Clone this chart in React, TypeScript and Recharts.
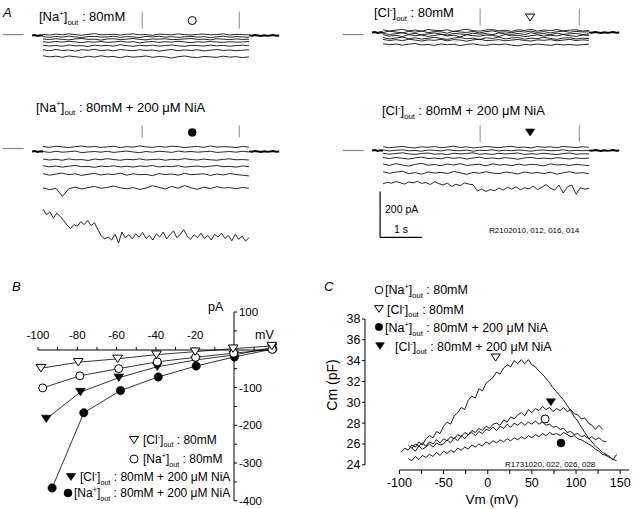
import React from "react";
import { LineChart, Line, XAxis, YAxis, ReferenceLine, ReferenceDot } from "recharts";

// ---------------- Panel A: current sweeps (pA) during the 4.9 s voltage steps ----------------
const stepEnd = 4.9;
const preStart = -0.26;
const postEnd = 5.62;
const holdPre = [0, 2, -2, 1, 0];
const holdPost = [1, -1, 2, 0, -2, 1, -1, 0, 2, -1, 0];

const na80Sweeps = [
  [5, 2, 6, 3, 7, 4, 1, 5, 8, 3, 4, 6, 2, 5, 7, 3, 4, 1, 6, 5, 3, 7, 4, 2, 5, 6, 3, 4, 7, 2, 5, 4, 3],
  [-5, -8, -4, -7, -3, -6, -9, -5, -4, -7, -6, -3, -8, -5, -6, -9, -4, -6, -3, -7, -5, -8, -6, -4, -7, -5, -9, -6, -3, -7, -5, -6, -8],
  [-15, -18, -14, -17, -19, -15, -13, -17, -16, -20, -15, -14, -18, -16, -13, -17, -19, -15, -16, -14, -18, -17, -15, -13, -17, -16, -19, -14, -16, -18, -15, -17, -16],
  [-27, -30, -26, -29, -25, -28, -31, -27, -29, -26, -30, -28, -25, -29, -27, -32, -28, -26, -30, -27, -29, -25, -28, -31, -27, -29, -26, -28, -30, -27, -29, -28, -26],
  [-42, -46, -43, -47, -41, -45, -44, -48, -42, -45, -43, -46, -40, -44, -47, -43, -45, -42, -46, -44, -41, -45, -47, -43, -44, -46, -42, -45, -43, -47, -44, -42, -45],
  [-62, -66, -61, -65, -63, -68, -62, -64, -60, -66, -63, -67, -61, -64, -66, -62, -65, -63, -68, -64, -61, -66, -63, -65, -62, -67, -64, -61, -65, -63, -66, -64, -62],
  [-88, -93, -90, -95, -89, -92, -96, -90, -94, -88, -93, -91, -97, -90, -94, -92, -89, -95, -91, -93, -98, -92, -89, -94, -96, -91, -93, -95, -90, -94, -92, -96, -93],
];

const naNiaSweeps = [
  [22, 18, 23, 20, 17, 21, 24, 19, 22, 18, 20, 23, 17, 21, 19, 24, 20, 18, 22, 19, 23, 21, 17, 20, 22, 18, 24, 19, 21, 20, 17, 22, 19],
  [0, -4, 1, -3, -1, 2, -5, -2, 0, -3, 1, -4, -1, 2, -2, -5, 0, -3, 1, -1, -4, 2, -2, 0, -3, -1, 1, -4, -2, 0, -3, 1, -2],
  [-33, -37, -34, -38, -32, -36, -35, -39, -33, -36, -31, -35, -38, -34, -36, -32, -37, -35, -33, -38, -34, -36, -31, -35, -37, -33, -36, -38, -34, -32, -36, -35, -37],
  [-62, -67, -63, -68, -64, -61, -66, -65, -69, -63, -66, -62, -67, -64, -68, -63, -65, -61, -67, -64, -66, -62, -68, -65, -63, -67, -64, -61, -66, -65, -68, -63, -66],
  [-96, -103, -98, -94, -101, -97, -104, -99, -95, -102, -98, -100, -94, -103, -97, -101, -99, -105, -96, -100, -98, -103, -95, -101, -99, -97, -104, -98, -102, -96, -100, -103, -106],
  [-158, -166, -160, -195, -162, -155, -163, -157, -152, -160, -156, -150, -158, -162, -157, -165, -159, -149, -156, -163, -152, -160, -148, -158, -164, -155, -161, -153, -159, -157, -162, -156, -160],
  [-250, -275, -262, -290, -268, -282, -300, -320, -335, -318, -325, -305, -318, -300, -322, -310, -340, -368, -380, -372, -385, -360, -398, -350, -375, -362, -380, -358, -372, -352, -378, -365, -385, -358, -372, -350, -380, -362, -345, -375, -360, -340, -368, -382, -362, -375, -355, -378, -365, -385, -360, -372, -355, -378, -365, -388, -360, -382, -368, -390, -375],
];

const cl80Sweeps = [
  [12, 6, 10, 14, 7, 11, 5, 13, 9, 8, 12, 4, 10, 14, 8, 6, 11, 13, 7, 10, 5, 12, 9, 14, 6, 11, 8, 13, 7, 10, 12, 6, 9],
  [0, 6, 2, -2, 5, 1, 7, -1, 4, 3, -3, 6, 2, 0, 5, -2, 4, 7, 1, 3, -1, 5, 2, 6, 0, 4, -2, 3, 6, 1, 5, 2, 3],
  [-3, -9, -5, -1, -8, -4, -10, -6, -2, -7, -11, -4, -6, -9, -3, -7, -5, -10, -2, -6, -8, -4, -9, -1, -7, -5, -10, -3, -8, -6, -4, -9, -6],
  [-10, -16, -12, -18, -9, -14, -11, -17, -13, -8, -15, -12, -19, -10, -14, -16, -11, -13, -17, -9, -15, -12, -18, -14, -10, -16, -12, -15, -9, -14, -17, -11, -13],
  [-22, -28, -24, -20, -27, -23, -29, -25, -21, -26, -30, -24, -22, -27, -25, -31, -23, -26, -20, -28, -24, -22, -29, -25, -27, -21, -26, -30, -24, -23, -28, -25, -26],
  [-30, -35, -31, -36, -29, -33, -37, -32, -34, -30, -36, -31, -33, -38, -32, -29, -35, -34, -31, -36, -33, -30, -35, -37, -32, -34, -31, -36, -33, -30, -35, -32, -34],
  [-49, -53, -50, -55, -51, -48, -54, -52, -56, -50, -53, -51, -57, -52, -49, -54, -56, -51, -53, -50, -55, -58, -52, -54, -50, -53, -56, -51, -54, -52, -55, -53, -51],
];

const clNiaSweeps = [
  [16, 12, 15, 18, 13, 11, 16, 14, 17, 12, 15, 19, 13, 16, 11, 14, 17, 15, 12, 16, 18, 13, 15, 11, 17, 14, 16, 12, 18, 15, 13, 16, 14],
  [2, -2, 1, 3, -1, 0, -3, 2, 1, -2, 3, 0, -1, 2, -3, 1, 0, 3, -2, 1, -1, 2, 0, -3, 1, 2, -1, 0, 3, -2, 1, -1, 0],
  [-12, -16, -13, -10, -15, -17, -13, -11, -16, -14, -18, -12, -15, -13, -10, -16, -14, -17, -12, -15, -13, -11, -17, -14, -16, -12, -15, -18, -13, -11, -16, -14, -15],
  [-31, -35, -30, -34, -37, -32, -29, -35, -33, -36, -30, -34, -31, -37, -33, -29, -35, -32, -36, -31, -34, -38, -32, -30, -35, -33, -36, -31, -34, -37, -32, -35, -33],
  [-58, -65, -57, -63, -68, -60, -56, -64, -61, -66, -59, -63, -57, -65, -62, -60, -67, -58, -63, -61, -66, -59, -64, -60, -62, -67, -58, -63, -61, -65, -60, -63, -66],
  [-92, -99, -94, -90, -101, -96, -103, -93, -98, -95, -100, -91, -97, -104, -95, -99, -92, -98, -101, -94, -97, -102, -93, -99, -96, -100, -94, -103, -97, -92, -99, -96, -101],
  [-145, -138, -142, -135, -140, -146, -137, -141, -134, -143, -139, -148, -136, -144, -150, -142, -156, -147, -153, -141, -146, -149, -176, -168, -178, -170, -175, -163, -172, -160, -168, -158, -171, -162, -167, -155, -170, -160, -148, -164, -172, -150, -185, -158, -150, -190, -162, -168, -165],
];

// ---------------- Panel B: I–V relations ----------------
const ivVmCl80 = [-98.5, -79.5, -59.5, -39.7, -20, -0.7, 19];
const ivICl80 = [-49, -33, -24, -13, -5, 3, 10];
const ivVmNa80 = [-97.6, -78.7, -58.9, -39.3, -19.8, -0.4, 19.2];
const ivINa80 = [-101, -69, -50, -32, -20, -9, 1];
const ivVmClNia = [-95.8, -78.4, -58.9, -39.3, -19.8, -0.4, 19.2];
const ivIClNia = [-183, -112, -74, -45, -27, -14, 6];
const ivVmNaNia = [-92.8, -76.7, -58, -38.8, -19.5, 0, 19.5];
const ivINaNia = [-366, -167, -108, -72, -43, -19, 2];
const bXTicks = [-100, -90, -80, -70, -60, -50, -40, -30, -20, -10, 0, 10, 20];
const bYTicks = [-400, -350, -300, -250, -200, -150, -100, -50, 0, 50, 100];

// ---------------- Panel C: Cm–Vm traces (ramp sampled every 4 mV) ----------------
const cVmStep = 4;
const cmCl80Start = -98;
const cmCl80 = [25.2, 25.6, 25.4, 25.9, 25.7, 26.2, 25.9, 26.5, 26.8, 26.6, 27.2, 27.0, 27.7, 28.1, 27.9, 28.7, 29.0, 29.5, 29.3, 30.2, 30.6, 30.4, 31.3, 31.1, 31.8, 32.1, 32.4, 32.9, 32.7, 33.3, 33.6, 33.4, 34.0, 33.7, 34.1, 33.7, 34.1, 33.6, 33.4, 33.0, 32.7, 32.3, 31.9, 31.4, 31.0, 30.6, 30.2, 29.7, 29.2, 28.6, 28.2, 27.6, 27.1, 26.6, 26.2, 25.8, 25.5, 25.2, 25.0, 24.8, 24.5, 25.0];
const cmClNiaStart = -90;
const cmClNia = [25.9, 25.6, 26.0, 25.8, 26.1, 25.8, 26.2, 26.0, 26.4, 26.1, 26.5, 26.3, 26.7, 26.5, 26.9, 26.7, 27.1, 26.9, 27.3, 27.1, 27.5, 27.3, 27.7, 27.5, 27.9, 28.0, 27.8, 28.3, 28.1, 28.6, 28.4, 28.8, 29.0, 28.7, 29.3, 29.0, 29.4, 29.2, 29.6, 29.3, 29.5, 29.1, 29.4, 29.2, 29.5, 29.1, 29.3, 28.9, 28.8, 28.4, 28.5, 28.0, 27.8, 27.4, 27.8, 27.4];
const cmNa80Start = -86;
const cmNa80 = [25.6, 25.3, 25.8, 25.5, 25.7, 26.0, 25.7, 26.1, 25.9, 26.0, 26.4, 26.1, 26.6, 26.3, 26.8, 26.5, 26.9, 27.1, 26.8, 27.2, 27.0, 27.4, 27.3, 27.6, 27.3, 27.7, 27.5, 27.9, 27.6, 28.0, 27.8, 28.1, 27.8, 28.1, 27.9, 28.2, 27.9, 28.1, 27.8, 27.9, 27.6, 27.7, 27.4, 27.5, 27.1, 27.2, 26.9, 27.0, 26.7, 26.8, 26.5, 26.7, 26.4, 26.6, 26.3, 26.2];
const cmNaNiaStart = -90;
const cmNaNia = [24.6, 24.4, 24.8, 24.5, 24.9, 24.7, 25.0, 24.8, 25.2, 24.9, 25.3, 25.1, 25.4, 25.2, 25.6, 25.4, 25.7, 25.5, 25.9, 25.7, 26.0, 25.8, 26.2, 26.0, 26.3, 26.1, 26.4, 26.2, 26.5, 26.3, 26.6, 26.4, 26.7, 26.5, 26.8, 26.6, 26.9, 26.7, 27.0, 26.8, 27.1, 26.9, 27.0, 26.8, 27.1, 26.9, 26.7, 26.8, 26.5, 26.4, 26.2, 26.0, 25.8, 25.5, 25.3, 25.0, 24.9, 24.7, 24.5, 24.4];
const cXTicks = [-100, -75, -50, -25, 0, 25, 50, 75, 100, 125, 150];
const cYTicks = [24, 26, 28, 30, 32, 34, 36, 38];

// ---------------- helpers ----------------
const PX_PER_PA = 0.23;
const A_W = 290;
const FONT = 'Arial, "Liberation Sans", Helvetica, sans-serif';

function spread(values: number[], t0: number, t1: number) {
  const n = values.length;
  return values.map((v, i) => ({ t: t0 + ((t1 - t0) * i) / (n - 1), v }));
}
function ivPoints(vm: number[], cur: number[]) {
  return vm.map((v, i) => ({ vm: v, i: cur[i] }));
}
function cmPoints(start: number, vals: number[]) {
  return vals.map((c, i) => ({ vm: start + cVmStep * i, cm: c }));
}

function Marker({ cx, cy, kind, r = 4 }: any) {
  if (cx == null || cy == null) return null;
  if (kind === "oc") return <circle cx={cx} cy={cy} r={r} fill="#fff" stroke="#000" strokeWidth={1} />;
  if (kind === "fc") return <circle cx={cx} cy={cy} r={r} fill="#000" stroke="#000" strokeWidth={0.5} />;
  const w = r * 1.15;
  const h = r * 1.75;
  const pts = `${cx - w},${cy - h / 2} ${cx + w},${cy - h / 2} ${cx},${cy + h / 2}`;
  return kind === "ot" ? (
    <polygon points={pts} fill="#fff" stroke="#000" strokeWidth={1} />
  ) : (
    <polygon points={pts} fill="#000" stroke="#000" strokeWidth={0.6} />
  );
}

function IonText({ x, y, ion, sign, rest, size }: any) {
  const small = size * 0.6;
  return (
    <text x={x} y={y} fontSize={size} fill="#000" style={{ whiteSpace: "pre" }}>
      {"[" + ion}
      <tspan dy={-size * 0.4} fontSize={small}>{sign}</tspan>
      <tspan dy={size * 0.4}>]</tspan>
      <tspan dy={size * 0.3} fontSize={small}>out</tspan>
      <tspan dy={-size * 0.3}>{rest}</tspan>
    </text>
  );
}

const grey = "#8c8c8c";

function TraceGroup({ left, baseY, yMin, yMax, sweeps, zero, tA, tB, tickLo, tickHi, markT, markV, kind, children }: any) {
  const height = (yMax - yMin) * PX_PER_PA;
  const top = baseY - yMax * PX_PER_PA;
  return (
    <div style={{ position: "absolute", left, top, width: A_W, height }}>
      <LineChart width={A_W} height={height} margin={{ top: 0, right: 0, bottom: 0, left: 0 }}>
        <XAxis type="number" dataKey="t" domain={[-1, 5.9]} hide allowDataOverflow />
        <YAxis type="number" domain={[yMin, yMax]} hide allowDataOverflow />
        <ReferenceLine segment={[{ x: -0.96, y: zero }, { x: -0.46, y: zero }]} stroke={grey} strokeWidth={1.3} ifOverflow="visible" />
        <ReferenceLine segment={[{ x: tA, y: tickLo }, { x: tA, y: tickHi }]} stroke={grey} strokeWidth={1} ifOverflow="visible" />
        <ReferenceLine segment={[{ x: tB, y: tickLo }, { x: tB, y: tickHi }]} stroke={grey} strokeWidth={1} ifOverflow="visible" />
        <Line data={spread(holdPre, preStart, 0)} dataKey="v" stroke="#000" strokeWidth={1.8} dot={false} isAnimationActive={false} />
        <Line data={spread(holdPost, stepEnd, postEnd)} dataKey="v" stroke="#000" strokeWidth={1.8} dot={false} isAnimationActive={false} />
        {sweeps.map((s: number[], i: number) => (
          <Line key={i} data={spread(s, 0, stepEnd)} dataKey="v" stroke="#000" strokeWidth={0.85} dot={false} isAnimationActive={false} />
        ))}
        <ReferenceDot x={markT} y={markV} r={4} ifOverflow="visible" shape={(p: any) => <Marker cx={p.cx} cy={p.cy} kind={kind} r={4} />} />
        {children}
      </LineChart>
    </div>
  );
}

const dotFn = (kind: string, r: number) => (p: any) => <Marker key={p.index} cx={p.cx} cy={p.cy} kind={kind} r={r} />;

export default function App() {
  const bCl80 = ivPoints(ivVmCl80, ivICl80);
  const bNa80 = ivPoints(ivVmNa80, ivINa80);
  const bClNia = ivPoints(ivVmClNia, ivIClNia);
  const bNaNia = ivPoints(ivVmNaNia, ivINaNia);
  const tickBlack = { fill: "#000" };
  return (
    <div style={{ position: "absolute", left: 0, top: 0, width: 634, height: 509, overflow: "hidden", background: "#fff", fontFamily: FONT }}>
      {/* ---------- Panel A ---------- */}
      <TraceGroup left={1} baseY={35} yMin={-150} yMax={150} sweeps={na80Sweeps} zero={4} tA={2.36} tB={4.67} tickLo={30} tickHi={104} markT={3.55} markV={65} kind="oc" />
      <TraceGroup left={1} baseY={151} yMin={-450} yMax={150} sweeps={naNiaSweeps} zero={13} tA={2.36} tB={4.67} tickLo={61} tickHi={113} markT={3.55} markV={83} kind="fc" />
      <TraceGroup left={341} baseY={32} yMin={-150} yMax={150} sweeps={cl80Sweeps} zero={-9} tA={2.31} tB={4.67} tickLo={30} tickHi={104} markT={3.5} markV={65} kind="ot" />
      <TraceGroup left={341} baseY={150} yMin={-400} yMax={150} sweeps={clNiaSweeps} zero={0} tA={2.31} tB={4.67} tickLo={37} tickHi={109} markT={3.5} markV={78} kind="ft">
        <ReferenceLine segment={[{ x: -0.07, y: -178 }, { x: -0.07, y: -378 }]} stroke="#000" strokeWidth={1.2} ifOverflow="visible" />
        <ReferenceLine segment={[{ x: -0.07, y: -378 }, { x: 0.93, y: -378 }]} stroke="#000" strokeWidth={1.2} ifOverflow="visible" />
      </TraceGroup>

      {/* ---------- Panel B axes (crossing at 0 mV / 0 pA) ---------- */}
      <div style={{ position: "absolute", left: 12.5, top: 324.5 }}>
        <LineChart width={270.8} height={35} margin={{ top: 0, right: 10, bottom: 5, left: 25 }}>
          <XAxis type="number" dataKey="vm" orientation="top" height={25} domain={[-100, 20]} ticks={bXTicks} interval={0} allowDataOverflow
            tickSize={3} tickMargin={8} tick={{ ...tickBlack, fontSize: 11.5 }} tickLine={{ stroke: "#000" }} axisLine={{ stroke: "#000" }}
            tickFormatter={(v: number) => (v % 20 === 0 && v < 0 ? String(v) : "")} />
          <YAxis type="number" domain={[-400, 100]} hide allowDataOverflow />
          <Line data={bNa80} dataKey="i" stroke="none" dot={false} isAnimationActive={false} />
        </LineChart>
      </div>
      <div style={{ position: "absolute", left: 200, top: 301.7 }}>
        <LineChart width={74} height={208.8} margin={{ top: 10, right: 0, bottom: 10, left: 0 }}>
          <XAxis type="number" dataKey="vm" domain={[-100, 20]} hide allowDataOverflow />
          <YAxis type="number" orientation="right" width={40} domain={[-400, 100]} ticks={bYTicks} interval={0} allowDataOverflow
            tickSize={3} tickMargin={2} tick={{ ...tickBlack, fontSize: 11.5 }} tickLine={{ stroke: "#000" }} axisLine={{ stroke: "#000" }}
            tickFormatter={(v: number) => (v % 100 === 0 && v !== 0 ? String(v) : "")} />
          <Line data={bNa80} dataKey="i" stroke="none" dot={false} isAnimationActive={false} />
        </LineChart>
      </div>
      {/* ---------- Panel B data ---------- */}
      <div style={{ position: "absolute", left: 27.5, top: 301.7 }}>
        <LineChart width={255.8} height={208.8} margin={{ top: 10, right: 10, bottom: 10, left: 10 }}>
          <XAxis type="number" dataKey="vm" domain={[-100, 20]} hide />
          <YAxis type="number" domain={[-400, 100]} hide />
          <Line data={bNaNia} dataKey="i" stroke="#000" strokeWidth={0.8} dot={dotFn("fc", 4.2)} isAnimationActive={false} />
          <Line data={bClNia} dataKey="i" stroke="#000" strokeWidth={0.8} dot={dotFn("ft", 4.2)} isAnimationActive={false} />
          <Line data={bNa80} dataKey="i" stroke="#000" strokeWidth={0.8} dot={dotFn("oc", 4)} isAnimationActive={false} />
          <Line data={bCl80} dataKey="i" stroke="#000" strokeWidth={0.8} dot={dotFn("ot", 4.2)} isAnimationActive={false} />
        </LineChart>
      </div>

      {/* ---------- Panel C ---------- */}
      <div style={{ position: "absolute", left: 320, top: 309 }}>
        <LineChart width={314} height={191} margin={{ top: 10, right: 5, bottom: 0, left: 0 }}>
          <XAxis type="number" dataKey="vm" domain={[-139, 160]} ticks={cXTicks} interval={0} height={30} axisLine={false}
            tickSize={4} tickMargin={4} tick={{ ...tickBlack, fontSize: 12.5 }} tickLine={{ stroke: "#000" }}
            tickFormatter={(v: number) => (v % 50 === 0 ? String(v) : "")} />
          <YAxis type="number" domain={[23.5, 38]} ticks={cYTicks} interval={0} width={45} axisLine={false}
            tickSize={3} tickMargin={1.5} tick={{ ...tickBlack, fontSize: 12.5 }} tickLine={{ stroke: "#000" }} />
          <ReferenceLine segment={[{ x: -100, y: 23.5 }, { x: 160, y: 23.5 }]} stroke="#000" strokeWidth={1} ifOverflow="visible" />
          <ReferenceLine segment={[{ x: -139, y: 24 }, { x: -139, y: 38 }]} stroke="#000" strokeWidth={1} ifOverflow="visible" />
          <Line data={cmPoints(cmNaNiaStart, cmNaNia)} dataKey="cm" stroke="#000" strokeWidth={0.9} dot={false} isAnimationActive={false} />
          <Line data={cmPoints(cmNa80Start, cmNa80)} dataKey="cm" stroke="#000" strokeWidth={0.9} dot={false} isAnimationActive={false} />
          <Line data={cmPoints(cmClNiaStart, cmClNia)} dataKey="cm" stroke="#000" strokeWidth={0.9} dot={false} isAnimationActive={false} />
          <Line data={cmPoints(cmCl80Start, cmCl80)} dataKey="cm" stroke="#000" strokeWidth={0.9} dot={false} isAnimationActive={false} />
          <ReferenceDot x={9} y={34.3} r={4} ifOverflow="visible" shape={(p: any) => <Marker cx={p.cx} cy={p.cy} kind="ot" r={4} />} />
          <ReferenceDot x={71.5} y={30.0} r={4} ifOverflow="visible" shape={(p: any) => <Marker cx={p.cx} cy={p.cy} kind="ft" r={4} />} />
          <ReferenceDot x={65} y={28.4} r={4} ifOverflow="visible" shape={(p: any) => <Marker cx={p.cx} cy={p.cy} kind="oc" r={4} />} />
          <ReferenceDot x={83} y={26.1} r={4} ifOverflow="visible" shape={(p: any) => <Marker cx={p.cx} cy={p.cy} kind="fc" r={4} />} />
        </LineChart>
      </div>

      {/* ---------- text & legends ---------- */}
      <svg width={634} height={509} style={{ position: "absolute", left: 0, top: 0, pointerEvents: "none" }}>
        <text x={3} y={17} fontSize={13} fontStyle="italic">A</text>
        <IonText x={39} y={21} ion="Na" sign="+" rest=" : 80mM" size={13} />
        <IonText x={36} y={111.5} ion="Na" sign="+" rest=" : 80mM + 200 μM NiA" size={13} />
        <IonText x={374} y={17} ion="Cl" sign="-" rest=" : 80mM" size={13} />
        <IonText x={382} y={115} ion="Cl" sign="-" rest=" : 80mM + 200 μM NiA" size={13} />
        <text x={385} y={213} fontSize={10.5}>200 pA</text>
        <text x={394} y={233} fontSize={10.5}>1 s</text>
        <text x={489} y={233} fontSize={8}>R2102010, 012, 016, 014</text>

        <text x={12} y={291} fontSize={13} fontStyle="italic">B</text>
        <text x={208} y={311} fontSize={12.5}>pA</text>
        <text x={255} y={339} fontSize={12.5}>mV</text>
        <Marker cx={134} cy={440} kind="ot" r={4} />
        <IonText x={143} y={443.5} ion="Cl" sign="-" rest=" : 80mM" size={12} />
        <Marker cx={134} cy={459} kind="oc" r={4} />
        <IonText x={143} y={463} ion="Na" sign="+" rest=" : 80mM" size={12} />
        <Marker cx={71} cy={477} kind="ft" r={4} />
        <IonText x={80} y={481} ion="Cl" sign="-" rest=" : 80mM + 200 μM NiA" size={12} />
        <Marker cx={68} cy={493} kind="fc" r={4} />
        <IonText x={74} y={497} ion="Na" sign="+" rest=" : 80mM + 200 μM NiA" size={12} />

        <text x={324} y={291} fontSize={13} fontStyle="italic">C</text>
        <Marker cx={379} cy={290} kind="oc" r={3.8} />
        <IonText x={385} y={294} ion="Na" sign="+" rest=" : 80mM" size={12.5} />
        <Marker cx={379} cy={309} kind="ot" r={3.8} />
        <IonText x={387} y={313.5} ion="Cl" sign="-" rest=" : 80mM" size={12.5} />
        <Marker cx={379} cy={327} kind="fc" r={3.8} />
        <IonText x={385} y={332} ion="Na" sign="+" rest=" : 80mM + 200 μM NiA" size={12.5} />
        <Marker cx={380} cy={346} kind="ft" r={3.8} />
        <IonText x={395} y={350.5} ion="Cl" sign="-" rest=" : 80mM + 200 μM NiA" size={12.5} />
        <text x={505} y={467} fontSize={8}>R1731020, 022, 026, 028</text>
        <text x={332} y={385} fontSize={14} textAnchor="middle" dominantBaseline="central" transform="rotate(-90 332 385)">Cm (pF)</text>
        <text x={492} y={504} fontSize={13.5} textAnchor="middle">Vm (mV)</text>
      </svg>
    </div>
  );
}
